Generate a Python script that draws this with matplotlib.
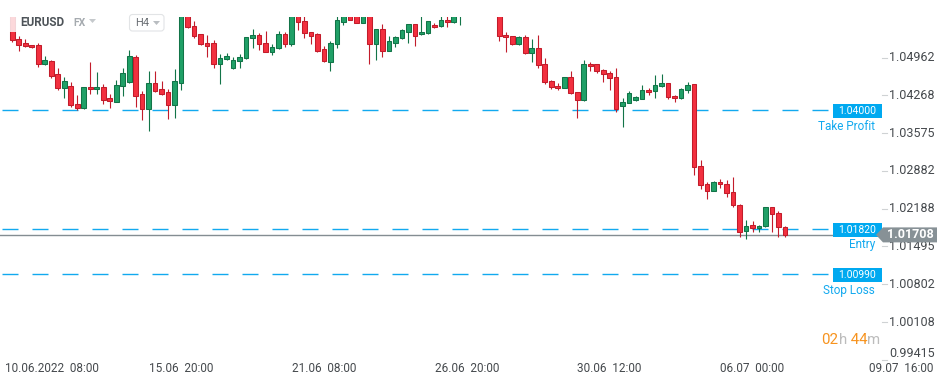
import matplotlib
matplotlib.use("Agg")
import matplotlib.pyplot as plt
from matplotlib.patches import Rectangle, Polygon, FancyBboxPatch
from matplotlib.lines import Line2D
from matplotlib.transforms import Affine2D, blended_transform_factory

plt.rcParams['font.family'] = ['Roboto', 'DejaVu Sans']
plt.rcParams['lines.scale_dashes'] = False

# ---------------- data ----------------
symbol = "EURUSD"
market = "FX"
timeframe = "H4"

opens = [1.0598, 1.05303, 1.05224, 1.05188, 1.05193, 1.04839, 1.04900, 1.04655, 1.04399, 1.04435,
         1.04105, 1.04032, 1.04428, 1.04386, 1.04423, 1.04215, 1.04153, 1.04435, 1.04520, 1.04979,
         1.04294, 1.04024, 1.04490, 1.04380, 1.04325, 1.04098, 1.04501, 1.0584, 1.05542, 1.05395,
         1.05230, 1.05224, 1.04850, 1.04931, 1.04766, 1.04894, 1.04949, 1.05316, 1.05371, 1.05224,
         1.05070, 1.05133, 1.05390, 1.05206, 1.0580, 1.05634, 1.05426, 1.05390, 1.05114, 1.04887,
         1.05206, 1.05621, 1.0576, 1.0578, 1.05602, 1.0578, 1.05206, 1.05481, 1.05089, 1.05235,
         1.05316, 1.05437, 1.05573, 1.05390, 1.05408, 1.05555, 1.05536, 1.05646, 1.05610, 1.0575,
         1.0592, 1.0605, 1.0595, 1.0600, 1.0585, 1.0592, 1.05371, 1.05353, 1.05217, 1.05335,
         1.05041, 1.05133, 1.04839, 1.04527, 1.04435, 1.04399, 1.04601, 1.04325, 1.04178, 1.04839,
         1.04839, 1.04729, 1.04674, 1.04601, 1.04068, 1.04123, 1.04178, 1.04208, 1.04367, 1.04340,
         1.04432, 1.04490, 1.04252, 1.04215, 1.04362, 1.04472, 1.02978, 1.02637, 1.02520, 1.02679,
         1.02637, 1.02490, 1.02252, 1.01775, 1.01885, 1.01830, 1.01866, 1.02215, 1.02105, 1.01859]
highs = [1.0610, 1.05364, 1.05303, 1.05193, 1.05224, 1.04986, 1.04918, 1.04766, 1.04606, 1.04520,
         1.04276, 1.04428, 1.04876, 1.04692, 1.04472, 1.04300, 1.04545, 1.04777, 1.05101, 1.05010,
         1.04349, 1.04716, 1.04716, 1.04533, 1.04380, 1.04753, 1.0592, 1.0595, 1.05634, 1.05400,
         1.05377, 1.05285, 1.05028, 1.05046, 1.04973, 1.05028, 1.05340, 1.05487, 1.05408, 1.05450,
         1.05206, 1.05445, 1.05426, 1.0588, 1.0590, 1.0575, 1.05430, 1.05408, 1.05175, 1.05267,
         1.0575, 1.0585, 1.0580, 1.0585, 1.0585, 1.0586, 1.05490, 1.05573, 1.05353, 1.05353,
         1.05481, 1.05580, 1.05580, 1.0575, 1.05635, 1.05591, 1.0573, 1.0575, 1.0580, 1.0598,
         1.0610, 1.0615, 1.0608, 1.0606, 1.0598, 1.0600, 1.05432, 1.05360, 1.05358, 1.05371,
         1.05298, 1.05377, 1.04949, 1.04551, 1.04490, 1.04605, 1.04716, 1.04330, 1.04912, 1.04876,
         1.04845, 1.04747, 1.04711, 1.04766, 1.04215, 1.04344, 1.04252, 1.04459, 1.04404, 1.04651,
         1.04661, 1.04495, 1.04270, 1.04399, 1.04509, 1.04478, 1.03083, 1.02679, 1.02698, 1.02729,
         1.02716, 1.02766, 1.02270, 1.01982, 1.01969, 1.01890, 1.02220, 1.02220, 1.02153, 1.01865]
lows = [1.05243, 1.05089, 1.05157, 1.05144, 1.04795, 1.04826, 1.04593, 1.04362, 1.04215, 1.04061,
        1.04000, 1.04023, 1.04300, 1.04289, 1.04105, 1.04032, 1.04142, 1.04263, 1.04490, 1.04061,
        1.03822, 1.03621, 1.04325, 1.04276, 1.03841, 1.03860, 1.04367, 1.05500, 1.05316, 1.05200,
        1.04979, 1.04766, 1.04472, 1.04912, 1.04760, 1.04777, 1.04940, 1.05133, 1.05101, 1.05070,
        1.05010, 1.05120, 1.05162, 1.05180, 1.05474, 1.05316, 1.05217, 1.05059, 1.04887, 1.04722,
        1.05133, 1.05560, 1.05650, 1.05595, 1.05590, 1.04850, 1.04918, 1.04979, 1.05085, 1.05162,
        1.05303, 1.05224, 1.05180, 1.05385, 1.05400, 1.05512, 1.05530, 1.05529, 1.05591, 1.05566,
        1.0585, 1.0590, 1.0582, 1.0578, 1.0576, 1.05272, 1.05070, 1.05199, 1.05199, 1.05035,
        1.04887, 1.04777, 1.04478, 1.04380, 1.04362, 1.04395, 1.04289, 1.03848, 1.04160, 1.04711,
        1.04674, 1.04509, 1.04362, 1.03958, 1.03683, 1.04120, 1.04160, 1.04205, 1.04267, 1.04228,
        1.04428, 1.04197, 1.04142, 1.04210, 1.04307, 1.02808, 1.02551, 1.02373, 1.02515, 1.02566,
        1.02399, 1.02226, 1.01676, 1.01628, 1.01756, 1.01767, 1.01860, 1.01767, 1.01665, 1.01676]
closes = [1.05279, 1.05199, 1.05180, 1.05151, 1.04839, 1.04912, 1.04630, 1.04399, 1.04533, 1.04092,
          1.04032, 1.04423, 1.04380, 1.04423, 1.04189, 1.04160, 1.04459, 1.04674, 1.04986, 1.04263,
          1.04024, 1.04490, 1.04355, 1.04300, 1.04098, 1.04533, 1.0585, 1.05518, 1.05364, 1.05206,
          1.05180, 1.04850, 1.04949, 1.04986, 1.04912, 1.04968, 1.05335, 1.05371, 1.05206, 1.05070,
          1.05151, 1.05390, 1.05206, 1.0580, 1.05610, 1.05408, 1.05364, 1.05089, 1.04905, 1.05224,
          1.05652, 1.0578, 1.05657, 1.05602, 1.0578, 1.05206, 1.05481, 1.05089, 1.05261, 1.05335,
          1.05463, 1.05573, 1.05364, 1.05426, 1.05628, 1.05518, 1.05646, 1.05610, 1.0574, 1.0590,
          1.0605, 1.0595, 1.0600, 1.0585, 1.0592, 1.05353, 1.05335, 1.05217, 1.05335, 1.05041,
          1.05133, 1.04821, 1.04509, 1.04417, 1.04399, 1.04601, 1.04307, 1.04178, 1.04839, 1.04802,
          1.04711, 1.04655, 1.04582, 1.04013, 1.04142, 1.04307, 1.04233, 1.04367, 1.04322, 1.04454,
          1.04490, 1.04234, 1.04215, 1.04380, 1.04454, 1.02960, 1.02619, 1.02520, 1.02674, 1.02637,
          1.02472, 1.02252, 1.01767, 1.01877, 1.01830, 1.01877, 1.02215, 1.02087, 1.01848, 1.01708]

time_tick_index = [4, 26, 48, 70, 92, 114, 136]
time_tick_labels = ["10.06.2022  08:00", "15.06  20:00", "21.06  08:00", "26.06  20:00",
                    "30.06  12:00", "06.07  00:00", "09.07  16:00"]
price_ticks = [1.04962, 1.04268, 1.03575, 1.02882, 1.02188, 1.01495, 1.00802, 1.00108, 0.99415]
price_tick_labels = ["1.04962", "1.04268", "1.03575", "1.02882", "1.02188", "1.01495",
                     "1.00802", "1.00108", "0.99415"]

levels = [1.04000, 1.01820, 1.00990]
level_labels = ["1.04000", "1.01820", "1.00990"]
level_names = ["Take Profit", "Entry", "Stop Loss"]
last_price = 1.01708
last_price_label = "1.01708"
timer_parts = ["02", "h", " 44", "m"]

# ---------------- layout / style ----------------
W, H, DPI = 949, 385, 100
PLOT_L, PLOT_R, PLOT_T, PLOT_B = 0, 880, 17, 362
CANDLE_X0, CANDLE_DX = 12.3, 6.493
P_TOP, P_BOT = 1.05707, 0.99375

RED_F, RED_E = '#f2303f', '#c21c2b'
GRN_F, GRN_E = '#20a067', '#127448'
BLUE = '#12a9ef'
GRAY_LINE = '#848d92'
TXT = '#45494d'

fig = plt.figure(figsize=(W / DPI, H / DPI), dpi=DPI)
fig.patch.set_facecolor('white')
ax = fig.add_axes([PLOT_L / W, 1 - PLOT_B / H, (PLOT_R - PLOT_L) / W, (PLOT_B - PLOT_T) / H])
ax.set_axis_off()
ax.autoscale(False)
ax.set_xlim((PLOT_L - CANDLE_X0) / CANDLE_DX, (PLOT_R - CANDLE_X0) / CANDLE_DX)
ax.set_ylim(P_BOT, P_TOP)

PX = (P_TOP - P_BOT) / (PLOT_B - PLOT_T)  # price per pixel
T = Affine2D().scale(1, -1).translate(0, H)  # pixel coords from top-left
BT = blended_transform_factory(T, ax.transData)

# ---------------- candles ----------------
n = len(opens)
bw = 0.72
for i in range(n):
    o, h, l, c = opens[i], highs[i], lows[i], closes[i]
    up = c >= o
    fc, ec = (GRN_F, GRN_E) if up else (RED_F, RED_E)
    ax.vlines(i, l, h, colors=ec, lw=0.8, zorder=3)
    bot = min(o, c)
    ht = max(abs(c - o), PX)
    ax.add_patch(Rectangle((i - bw / 2, bot), bw, ht, facecolor=fc, edgecolor=ec,
                           lw=0.75, zorder=4))

# ---------------- levels ----------------
for p in levels:
    ax.add_line(Line2D([2, 828], [p, p], transform=BT, color=BLUE, lw=1.0,
                       dashes=(16 * 0.72, 14 * 0.72), zorder=2))
ax.add_line(Line2D([0, 880], [last_price, last_price], transform=BT, color=GRAY_LINE,
                   lw=1.0, zorder=2))

for p, lab, name in zip(levels, level_labels, level_names):
    fig.add_artist(Rectangle((833, p - 8 * PX), 49, 14 * PX, transform=BT,
                             facecolor='#00a9f0', edgecolor='none', zorder=3))
    fig.text(857.5, p - 1 * PX, lab, transform=BT, color='white', fontsize=7.5,
             ha='center', va='center', zorder=4)
    fig.text(875, p - 16 * PX, name, transform=BT, color=BLUE, fontsize=8.5,
             ha='right', va='center', zorder=4)

# ---------------- price scale ----------------
for k, (p, lab) in enumerate(zip(price_ticks, price_tick_labels)):
    fig.add_artist(Line2D([882, 887], [p, p], transform=BT, color='#cfd2d4', lw=0.8, zorder=1))
    va = 'bottom' if k == len(price_ticks) - 1 else 'center'
    fig.text(889, p, lab, transform=BT, color=TXT, fontsize=9, ha='left', va=va, zorder=1)

lp = last_price
fig.add_artist(Polygon([(876, lp), (883, lp + 7.5 * PX), (937, lp + 7.5 * PX),
                        (937, lp - 7.5 * PX), (883, lp - 7.5 * PX)], closed=True,
                       transform=BT, facecolor='#879196', edgecolor='none', zorder=3))
fig.text(910, lp, last_price_label, transform=BT, color='white', fontsize=9,
         fontweight='bold', ha='center', va='center', zorder=4)

# ---------------- time scale ----------------
for idx, lab in zip(time_tick_index, time_tick_labels):
    xpx = CANDLE_X0 + CANDLE_DX * idx
    if idx == time_tick_index[0]:
        fig.text(5, 368, lab, transform=T, color=TXT, fontsize=8.5, ha='left', va='center')
    elif idx == time_tick_index[-1]:
        fig.text(933, 368, lab, transform=T, color=TXT, fontsize=8.5, ha='right', va='center')
    else:
        fig.text(xpx, 368, lab, transform=T, color=TXT, fontsize=8.5, ha='center', va='center')

# ---------------- timer (pieces laid out right-to-left, ending at x=880) ----------------
ORANGE, LGRAY = '#f7931e', '#bcbcbc'
renderer = fig.canvas.get_renderer()
xr = 880.5
for part, col in reversed(list(zip(timer_parts, [ORANGE, LGRAY, ORANGE, LGRAY]))):
    t = fig.text(xr, 340, part, transform=T, color=col, fontsize=10.8, ha='right', va='center')
    xr -= t.get_window_extent(renderer).width

# ---------------- header ----------------
fig.add_artist(Rectangle((0, 0), 172, 32, transform=T, facecolor='white', alpha=0.82,
                         edgecolor='none', zorder=1))
fig.text(20, 22.5, symbol, transform=T, color='#4d5358', fontsize=8.5, fontweight='bold',
         ha='left', va='center', zorder=2)
fig.text(73, 23, market, transform=T, color='#a5aaaf', fontsize=7.5, fontweight='bold',
         ha='left', va='center', zorder=2)
fig.add_artist(Polygon([(89, 19), (96, 19), (92.5, 23)], closed=True, transform=T,
                       facecolor='#c5c9cc', edgecolor='none', zorder=2))
fig.add_artist(FancyBboxPatch((129.5, 14.5), 34.5, 16.5, boxstyle='round,pad=0,rounding_size=3',
                              transform=T, facecolor='white', edgecolor='#e2e4e6', lw=0.8,
                              zorder=2))
fig.text(135, 23, timeframe, transform=T, color='#6a6f74', fontsize=8, ha='left', va='center',
         zorder=3)
fig.add_artist(Polygon([(153, 21), (160, 21), (156.5, 25)], closed=True, transform=T,
                       facecolor='#b9bdc1', edgecolor='none', zorder=3))

fig.savefig("out.png", dpi=DPI, facecolor='white')
